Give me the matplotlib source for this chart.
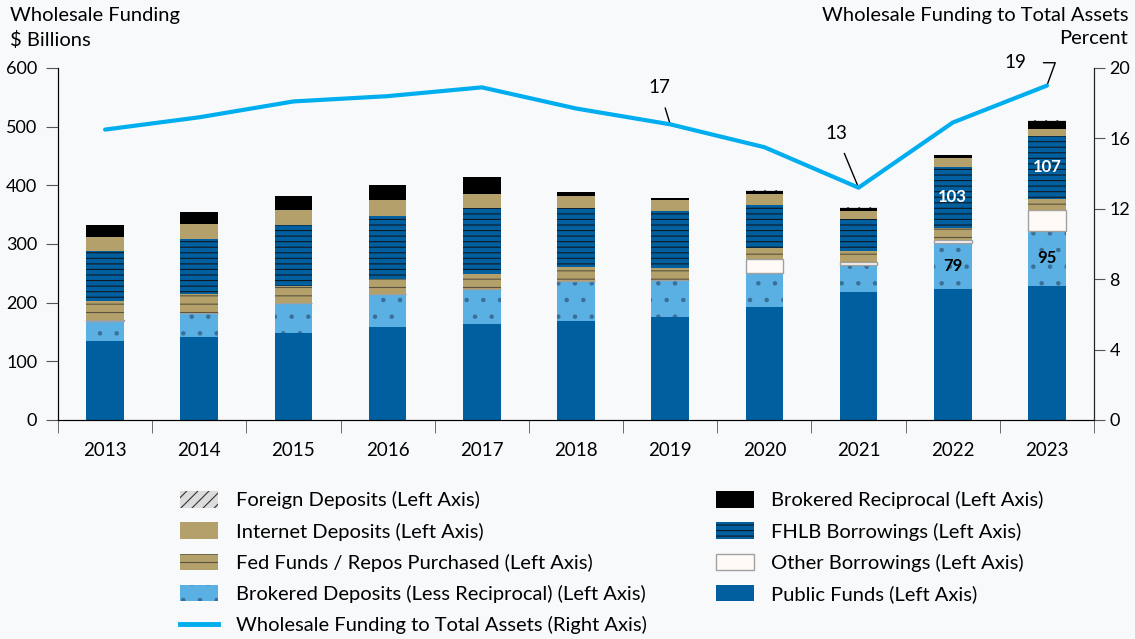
import numpy as np
import matplotlib.pyplot as plt
from matplotlib.lines import Line2D

plt.rcParams['font.family'] = ['Lato', 'DejaVu Sans']
plt.rcParams['hatch.linewidth'] = 0.8

# data ($ billions, left axis)
years = ['2013', '2014', '2015', '2016', '2017', '2018', '2019', '2020', '2021', '2022', '2023']
public = [134, 142, 149, 158, 163, 169, 175, 193, 219, 223, 228]
brokered = [35, 40, 50, 56, 60, 68, 64, 57, 45, 79, 95]
other = [2, 0, 1, 0, 1, 0, 0, 24, 5, 5, 35]
fedfunds = [32, 32, 29, 26, 25, 24, 20, 20, 19, 21, 19]
fhlb = [85, 94, 103, 108, 112, 100, 97, 72, 55, 103, 107]
internet = [24, 26, 26, 27, 24, 21, 19, 20, 14, 15, 12]
reciprocal = [20, 20, 23, 25, 29, 6, 3, 5, 5, 5, 14]
foreign = [1, 1, 1, 1, 1, 1, 1, 1, 1, 1, 1]
# percent, right axis
ratio = [16.5, 17.2, 18.1, 18.4, 18.9, 17.7, 16.8, 15.5, 13.2, 16.9, 19.0]

bg = '#f8f9fb'
fig = plt.figure(figsize=(11.35, 6.39), dpi=100, facecolor=bg)
ax = fig.add_axes([58/1135, 219/639, 1036/1135, 352/639], facecolor=bg)
x = np.arange(len(years))
w = 0.4

layers = [
    (public, 'Public Funds (Left Axis)', dict(color='#005f9e')),
    (brokered, 'Brokered Deposits (Less Reciprocal) (Left Axis)', dict(color='#5ab0e3', hatch='.', edgecolor='#3a6f98')),
    (other, 'Other Borrowings (Left Axis)', dict(color='#fffaf5', edgecolor='#a0a0a0')),
    (fedfunds, 'Fed Funds / Repos Purchased (Left Axis)', dict(color='#b3a06a', hatch='--', edgecolor='#5a5540')),
    (fhlb, 'FHLB Borrowings (Left Axis)', dict(color='#005f9e', hatch='---', edgecolor='#111a24')),
    (internet, 'Internet Deposits (Left Axis)', dict(color='#b3a06a')),
    (reciprocal, 'Brokered Reciprocal (Left Axis)', dict(color='#000000')),
    (foreign, 'Foreign Deposits (Left Axis)', dict(color='#dcdcdc', hatch='///', edgecolor='#333333')),
]
bottom = np.zeros(len(years))
handles = {}
for vals, lab, st in layers:
    lw = 1.0 if lab.startswith('Other') else 0
    b = ax.bar(x, vals, w, bottom=bottom, linewidth=lw, label=lab, zorder=2, **st)
    handles[lab] = b
    bottom = bottom + np.array(vals)

# value labels inside bars
b0 = np.array(public)
for i in [9, 10]:
    ax.text(x[i], b0[i] + brokered[i] / 2, str(brokered[i]), ha='center', va='center',
            fontsize=12, fontweight='bold', color='black', zorder=3)
    base = b0[i] + brokered[i] + other[i] + fedfunds[i]
    ax.text(x[i], base + fhlb[i] / 2, str(fhlb[i]), ha='center', va='center',
            fontsize=12, fontweight='bold', color='white', zorder=3)

ax.set_xlim(-0.5, 10.5)
ax.set_ylim(0, 600)
ax.set_yticks(range(0, 601, 100))
ax.set_xticks(x)
ax.set_xticklabels(years)
ax.set_xticks(np.arange(-0.5, 11, 1), minor=True)
ax.tick_params(axis='x', which='major', length=0, pad=16, labelsize=13.5)
ax.tick_params(axis='x', which='minor', length=9, color='#555555')
ax.tick_params(axis='y', length=9, color='#555555', labelsize=13, pad=6)
ax.spines['top'].set_visible(False)
for s in ['left', 'bottom', 'right']:
    ax.spines[s].set_color('#222222')

ax2 = ax.twinx()
ax2.plot(x, ratio, color='#00aeef', lw=3, solid_capstyle='round', zorder=4)
ax2.set_ylim(0, 20)
ax2.set_yticks(range(0, 21, 4))
ax2.tick_params(axis='y', length=8, color='#555555', labelsize=13, pad=3)
ax2.spines['top'].set_visible(False)
ax2.spines['right'].set_color('#222222')

ax2.annotate('17', xy=(x[6], ratio[6]), xytext=(x[6] - 0.12, 18.9), fontsize=13.5,
             ha='center', va='center',
             arrowprops=dict(arrowstyle='-', color='black', lw=1, shrinkA=7, shrinkB=0))
ax2.annotate('13', xy=(x[8], ratio[8]), xytext=(x[8] - 0.24, 16.3), fontsize=13.5,
             ha='center', va='center',
             arrowprops=dict(arrowstyle='-', color='black', lw=1, shrinkA=7, shrinkB=0))
ax2.annotate('19', xy=(x[10], ratio[10]), xytext=(x[10] - 0.33, 20.3), fontsize=13.5,
             ha='center', va='center',
             arrowprops=dict(arrowstyle='-', color='black', lw=1, shrinkA=10, shrinkB=0,
                             connectionstyle='angle,angleA=0,angleB=70,rad=0'))

fig.text(10/1135, 1 - 7/639, 'Wholesale Funding\n$ Billions', ha='left', va='top',
         fontsize=14.5, linespacing=1.45)
fig.text(1128/1135, 1 - 7/639, 'Wholesale Funding to Total Assets\nPercent', ha='right',
         va='top', fontsize=14.5, linespacing=1.45, multialignment='right')

line_h = Line2D([], [], color='#00aeef', lw=3.5)
order = ['Foreign Deposits (Left Axis)', 'Internet Deposits (Left Axis)',
         'Fed Funds / Repos Purchased (Left Axis)',
         'Brokered Deposits (Less Reciprocal) (Left Axis)']
order2 = ['Brokered Reciprocal (Left Axis)', 'FHLB Borrowings (Left Axis)',
          'Other Borrowings (Left Axis)', 'Public Funds (Left Axis)']
hs = [handles[k] for k in order] + [line_h] + [handles[k] for k in order2]
ls = order + ['Wholesale Funding to Total Assets (Right Axis)'] + order2
fig.legend(hs, ls, ncol=2, loc='upper left', bbox_to_anchor=(162/1135, 1 - 473/639),
           frameon=False, fontsize=14.5, handlelength=1.9, handleheight=0.9,
           labelspacing=0.64, columnspacing=3.45, handletextpad=0.85)

fig.savefig('out.png', dpi=100, facecolor=bg)
